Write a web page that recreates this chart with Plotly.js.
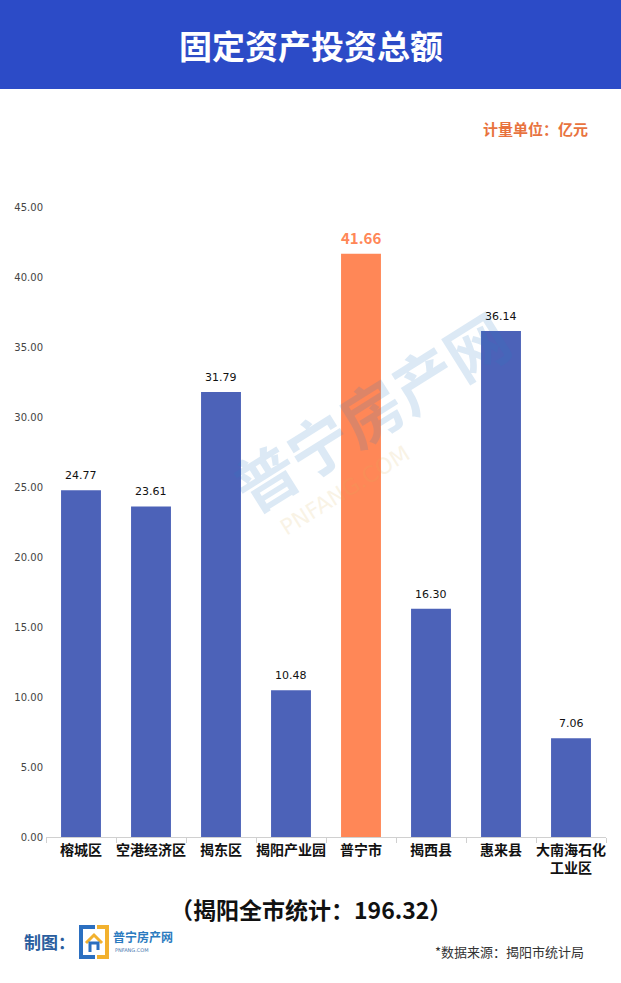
<!DOCTYPE html>
<html>
<head>
<meta charset="utf-8">
<script src="https://cdn.plot.ly/plotly-3.0.1.min.js"></script>
<style>html,body{margin:0;padding:0;background:#fff;}#chart{width:621px;height:983px;}</style>
</head>
<body>
<div id="chart"></div>
<script>
const categories = ["榕城区", "空港经济区", "揭东区", "揭阳产业园", "普宁市", "揭西县", "惠来县", "大南海石化<br>工业区"];
const values = [24.77, 23.61, 31.79, 10.48, 41.66, 16.30, 36.14, 7.06];
const highlight = "普宁市";
const tickVals = [0, 5, 10, 15, 20, 25, 30, 35, 40, 45];
const tickText = ["0.00", "5.00", "10.00", "15.00", "20.00", "25.00", "30.00", "35.00", "40.00", "45.00"];
const titleText = "固定资产投资总额";
const unitText = "计量单位：亿元";
const totalText = "（揭阳全市统计：196.32）";
const sourceText = "*数据来源：揭阳市统计局";

const W = 621, H = 983;
const M = {l: 46, r: 15, t: 207, b: 146};
const PW = W - M.l - M.r, PH = H - M.t - M.b;
const px = x => (x - M.l) / PW;
const py = y => (H - M.b - y) / PH;

const BLUE = "#4c62b8", ORANGE = "#ff8757";
const CJK = "Noto Sans CJK SC, sans-serif";

const colors = categories.map(c => c === highlight ? ORANGE : BLUE);

const traces = [{
  type: "bar",
  x: categories,
  y: values,
  marker: {color: colors},
  hoverinfo: "none",
  showlegend: false
}];

const labelAnn = categories.map((c, i) => {
  const hi = c === highlight;
  return {
    x: c, y: values[i], xref: "x", yref: "y",
    text: values[i].toFixed(2),
    showarrow: false, yanchor: "bottom", yshift: hi ? 4 : 6,
    font: hi ? {family: CJK, size: 15, color: ORANGE, weight: "bold"} : {family: "DejaVu Sans, sans-serif", size: 11, color: "#111"}
  };
});

const annotations = labelAnn.concat([
  {xref: "paper", yref: "paper", x: px(310.5), y: py(45), text: titleText, showarrow: false,
   xanchor: "center", yanchor: "middle", font: {family: CJK, size: 33, color: "#ffffff", weight: "bold"}},
  {xref: "paper", yref: "paper", x: px(590), y: py(128), text: unitText, showarrow: false,
   xanchor: "right", yanchor: "middle", font: {family: CJK, size: 15, color: "#e8733e", weight: "bold"}},
  {xref: "paper", yref: "paper", x: px(310.5), y: py(909), text: totalText, showarrow: false,
   xanchor: "center", yanchor: "middle", font: {family: CJK, size: 23, color: "#111", weight: "bold"}},
  {xref: "paper", yref: "paper", x: px(22), y: py(941), text: "制图：", showarrow: false,
   xanchor: "left", yanchor: "middle", font: {family: CJK, size: 17, color: "#2a5d9e", weight: "bold"}},
  {xref: "paper", yref: "paper", x: px(111), y: py(937), text: "普宁房产网", showarrow: false,
   xanchor: "left", yanchor: "middle", font: {family: CJK, size: 12, color: "#2b7bc0", weight: "bold"}},
  {xref: "paper", yref: "paper", x: px(113), y: py(950), text: "PNFANG.COM", showarrow: false,
   xanchor: "left", yanchor: "middle", font: {family: "DejaVu Sans, sans-serif", size: 5, color: "#4a7ab0"}},
  {xref: "paper", yref: "paper", x: px(586), y: py(951), text: sourceText, showarrow: false,
   xanchor: "right", yanchor: "middle", font: {family: CJK, size: 13, color: "#333"}},
  {xref: "paper", yref: "paper", x: px(370), y: py(410), text: "普宁房产网", showarrow: false,
   textangle: -32, xanchor: "center", yanchor: "middle", opacity: 0.16,
   font: {family: CJK, size: 62, color: "#2a7cc4", weight: "bold"}},
  {xref: "paper", yref: "paper", x: px(345), y: py(490), text: "PNFANG.COM", showarrow: false,
   textangle: -32, xanchor: "center", yanchor: "middle", opacity: 0.15,
   font: {family: "DejaVu Sans, sans-serif", size: 22, color: "#d9b25a"}}
]);

const pathStr = pts => "M " + pts.map(p => px(p[0]) + "," + py(p[1])).join(" L ");

const shapes = [
  {type: "rect", xref: "paper", yref: "paper", x0: px(-5), x1: px(630), y0: py(89), y1: py(-5),
   fillcolor: "#2c4bc7", line: {width: 0}, layer: "above"},
  {type: "path", xref: "paper", yref: "paper", path: pathStr([[95, 927], [81, 927], [81, 957], [95, 957]]),
   line: {color: "#2b6fc0", width: 4}},
  {type: "path", xref: "paper", yref: "paper", path: pathStr([[97, 927], [107, 927], [107, 957], [97, 957]]),
   line: {color: "#f2b12e", width: 4}},
  {type: "path", xref: "paper", yref: "paper", path: pathStr([[86, 943], [94, 935], [102, 943]]),
   line: {color: "#f2b12e", width: 3}},
  {type: "path", xref: "paper", yref: "paper", path: pathStr([[90, 952], [90, 943], [98, 943], [98, 950]]),
   line: {color: "#2b6fc0", width: 3}}
];

const layout = {
  width: W, height: H,
  margin: M,
  paper_bgcolor: "#ffffff", plot_bgcolor: "#ffffff",
  bargap: 0.43,
  font: {family: CJK},
  xaxis: {
    type: "category",
    showline: true, linecolor: "#d0d0d0", linewidth: 1,
    ticks: "outside", tickson: "boundaries", ticklen: 5, tickcolor: "#d0d0d0",
    tickangle: 0,
    tickfont: {family: CJK, size: 14, color: "#111", weight: "bold"},
    showgrid: false, zeroline: false, fixedrange: true
  },
  yaxis: {
    range: [0, 45],
    tickvals: tickVals, ticktext: tickText,
    tickfont: {family: "DejaVu Sans, sans-serif", size: 10, color: "#444"},
    showgrid: false, zeroline: false, showline: false, ticks: "", ticklabelstandoff: 2,
    fixedrange: true
  },
  shapes: shapes,
  annotations: annotations
};

Plotly.newPlot("chart", traces, layout, {displayModeBar: false, staticPlot: true});
</script>
</body>
</html>
